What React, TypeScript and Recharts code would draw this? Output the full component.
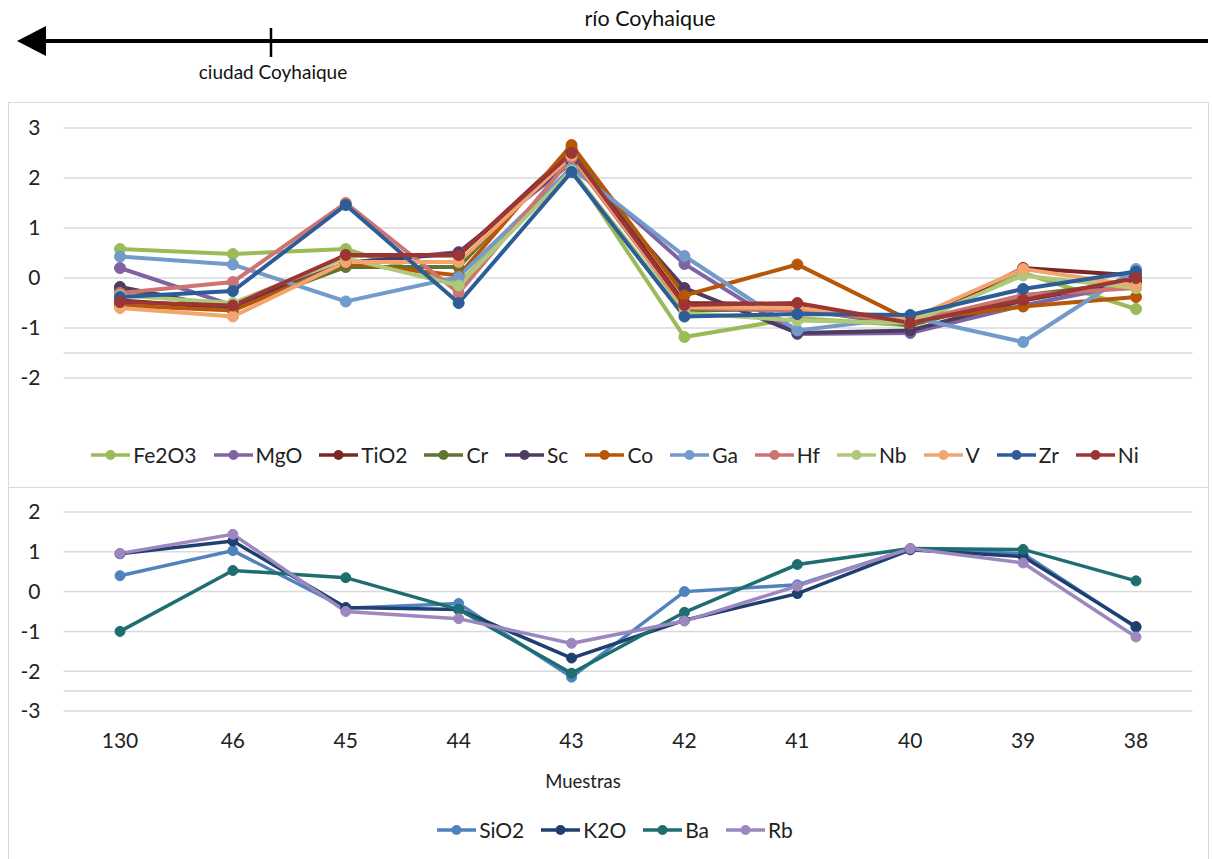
import { LineChart, Line, XAxis, YAxis, CartesianGrid, ReferenceLine } from "recharts";

const FONT = "Lato, 'Open Sans', sans-serif";
const TEXT = "#222";
const GRID = "#D9D9D9";

// muestras, aguas abajo -> aguas arriba
const muestras = ["130", "46", "45", "44", "43", "42", "41", "40", "39", "38"];

// panel superior
const fe2o3 = [0.58, 0.48, 0.58, -0.12, 2.2, -1.18, -0.8, -0.95, 0.1, -0.62];
const mgo = [0.2, -0.55, 0.3, 0.52, 2.3, 0.28, -1.12, -1.1, -0.55, -0.1];
const tio2 = [-0.45, -0.6, 0.45, 0.45, 2.55, -0.5, -0.52, -0.95, 0.2, 0.05];
const cr = [-0.22, -0.62, 0.22, 0.22, 2.6, -0.65, -0.62, -0.95, -0.35, -0.08];
const sc = [-0.18, -0.62, 0.3, 0.5, 2.35, -0.2, -1.1, -1.05, -0.45, -0.05];
const co = [-0.55, -0.65, 0.3, 0.05, 2.66, -0.35, 0.27, -0.85, -0.57, -0.38];
const ga = [0.43, 0.27, -0.47, 0.02, 2.2, 0.44, -1.05, -0.78, -1.28, 0.18];
const hf = [-0.3, -0.08, 1.5, -0.3, 2.4, -0.6, -0.65, -0.88, -0.34, -0.2];
const nb = [-0.35, -0.5, 0.4, -0.15, 2.15, -0.7, -0.85, -0.9, 0.05, -0.2];
const v = [-0.6, -0.77, 0.32, 0.32, 2.45, -0.58, -0.6, -0.82, 0.18, -0.15];
const zr = [-0.38, -0.26, 1.46, -0.5, 2.12, -0.77, -0.72, -0.74, -0.22, 0.13];
const ni = [-0.48, -0.55, 0.46, 0.46, 2.5, -0.54, -0.5, -0.9, -0.44, 0.0];

// panel inferior
const sio2 = [0.4, 1.03, -0.42, -0.3, -2.15, 0, 0.17, 1.07, 0.95, -0.9];
const k2o = [0.95, 1.27, -0.4, -0.45, -1.67, -0.72, -0.05, 1.05, 0.88, -0.88];
const ba = [-1.0, 0.53, 0.35, -0.45, -2.05, -0.52, 0.68, 1.08, 1.06, 0.27];
const rb = [0.96, 1.44, -0.5, -0.68, -1.3, -0.74, 0.14, 1.08, 0.72, -1.14];

const topTicks = [-2, -1, 0, 1, 2, 3];
const bottomTicks = [-3, -2, -1, 0, 1, 2];

const topSeries = [
  { name: "Fe2O3", values: fe2o3, color: "#9BBB59" },
  { name: "MgO", values: mgo, color: "#8064A2" },
  { name: "TiO2", values: tio2, color: "#7A2624" },
  { name: "Cr", values: cr, color: "#5F7530" },
  { name: "Sc", values: sc, color: "#4D3B62" },
  { name: "Co", values: co, color: "#B65708" },
  { name: "Ga", values: ga, color: "#729ACA" },
  { name: "Hf", values: hf, color: "#CD7371" },
  { name: "Nb", values: nb, color: "#AFC97A" },
  { name: "V", values: v, color: "#F2A56E" },
  { name: "Zr", values: zr, color: "#2C5D98" },
  { name: "Ni", values: ni, color: "#9C3533" },
];

const bottomSeries = [
  { name: "SiO2", values: sio2, color: "#5082BE" },
  { name: "K2O", values: k2o, color: "#1F3F6E" },
  { name: "Ba", values: ba, color: "#1E6E71" },
  { name: "Rb", values: rb, color: "#9C88BF" },
];

const toRows = (series: { name: string; values: number[] }[]) =>
  muestras.map((m, i) => {
    const row: Record<string, string | number> = { muestra: m };
    series.forEach((s) => (row[s.name] = s.values[i]));
    return row;
  });

const topData = toRows(topSeries);
const bottomData = toRows(bottomSeries);

function LegendRow({ items, top }: { items: { name: string; color: string }[]; top: number }) {
  return (
    <div
      style={{
        position: "absolute",
        left: 0,
        top,
        width: 1230,
        display: "flex",
        justifyContent: "center",
        gap: 17,
        fontFamily: FONT,
        fontSize: 21,
        color: TEXT,
      }}
    >
      {items.map((it) => (
        <div key={it.name} style={{ display: "flex", alignItems: "center", gap: 3 }}>
          <svg width={39} height={12}>
            <line x1={0} y1={6} x2={39} y2={6} stroke={it.color} strokeWidth={3.5} />
            <circle cx={19.5} cy={6} r={5} fill={it.color} />
          </svg>
          <span>{it.name}</span>
        </div>
      ))}
    </div>
  );
}

export default function App() {
  const tickStyle = { fontSize: 21, fill: TEXT, fontFamily: FONT };
  return (
    <div style={{ position: "absolute", left: 0, top: 0, width: 1212, height: 859, background: "#fff", fontFamily: FONT }}>
      {/* flecha del río */}
      <svg width={1212} height={100} style={{ position: "absolute", left: 0, top: 0 }}>
        <line x1={40} y1={41} x2={1208} y2={41} stroke="#000" strokeWidth={4} />
        <polygon points="17,41 46,26 46,56" fill="#000" />
        <line x1={271} y1={28} x2={271} y2={57} stroke="#000" strokeWidth={2.5} />
        <text x={650} y={26} textAnchor="middle" fontSize={21.5} fill="#111" fontFamily={FONT}>
          río Coyhaique
        </text>
        <text x={273} y={79} textAnchor="middle" fontSize={19} fill="#111" fontFamily={FONT}>
          ciudad Coyhaique
        </text>
      </svg>

      {/* marcos de los paneles */}
      <div style={{ position: "absolute", left: 8, top: 102, width: 1201, height: 386, border: `1.5px solid ${GRID}`, boxSizing: "border-box" }} />
      <div style={{ position: "absolute", left: 8, top: 487, width: 1201, height: 380, border: `1.5px solid ${GRID}`, boxSizing: "border-box" }} />

      <div style={{ position: "absolute", left: 0, top: 102 }}>
        <LineChart width={1212} height={386} data={topData} margin={{ top: 26, right: 19.5, bottom: 110, left: 0 }}>
          <CartesianGrid vertical={false} stroke={GRID} strokeWidth={1.5} />
          <ReferenceLine y={-1.5} stroke={GRID} strokeWidth={1.5} />
          <XAxis dataKey="muestra" hide padding={{ left: 56.5, right: 56.5 }} />
          <YAxis
            domain={[-2, 3]}
            ticks={topTicks}
            width={63.5}
            axisLine={false}
            tickLine={false}
            tickSize={0}
            tickMargin={23}
            tick={tickStyle}
          />
          {topSeries.map((s) => (
            <Line
              key={s.name}
              dataKey={s.name}
              stroke={s.color}
              strokeWidth={4}
              dot={{ r: 5.5, fill: s.color, stroke: s.color, strokeWidth: 1 }}
              isAnimationActive={false}
            />
          ))}
        </LineChart>
      </div>
      <LegendRow items={topSeries} top={442} />

      <div style={{ position: "absolute", left: 0, top: 488 }}>
        <LineChart width={1212} height={371} data={bottomData} margin={{ top: 24, right: 19.5, bottom: 88, left: 0 }}>
          <CartesianGrid vertical={false} stroke={GRID} strokeWidth={1.5} />
          <ReferenceLine y={-2.5} stroke={GRID} strokeWidth={1.5} />
          <XAxis
            dataKey="muestra"
            padding={{ left: 56.5, right: 56.5 }}
            height={60}
            axisLine={false}
            tickLine={false}
            tickSize={0}
            tickMargin={22}
            tick={tickStyle}
            label={{ value: "Muestras", position: "bottom", offset: 4, dx: -45, fontSize: 18.5, fill: TEXT, fontFamily: FONT }}
          />
          <YAxis
            domain={[-3, 2]}
            ticks={bottomTicks}
            width={63.5}
            axisLine={false}
            tickLine={false}
            tickSize={0}
            tickMargin={23}
            tick={tickStyle}
          />
          {bottomSeries.map((s) => (
            <Line
              key={s.name}
              dataKey={s.name}
              stroke={s.color}
              strokeWidth={3.5}
              dot={{ r: 5, fill: s.color, stroke: s.color, strokeWidth: 1 }}
              isAnimationActive={false}
            />
          ))}
        </LineChart>
      </div>
      <LegendRow items={bottomSeries} top={817} />
    </div>
  );
}
